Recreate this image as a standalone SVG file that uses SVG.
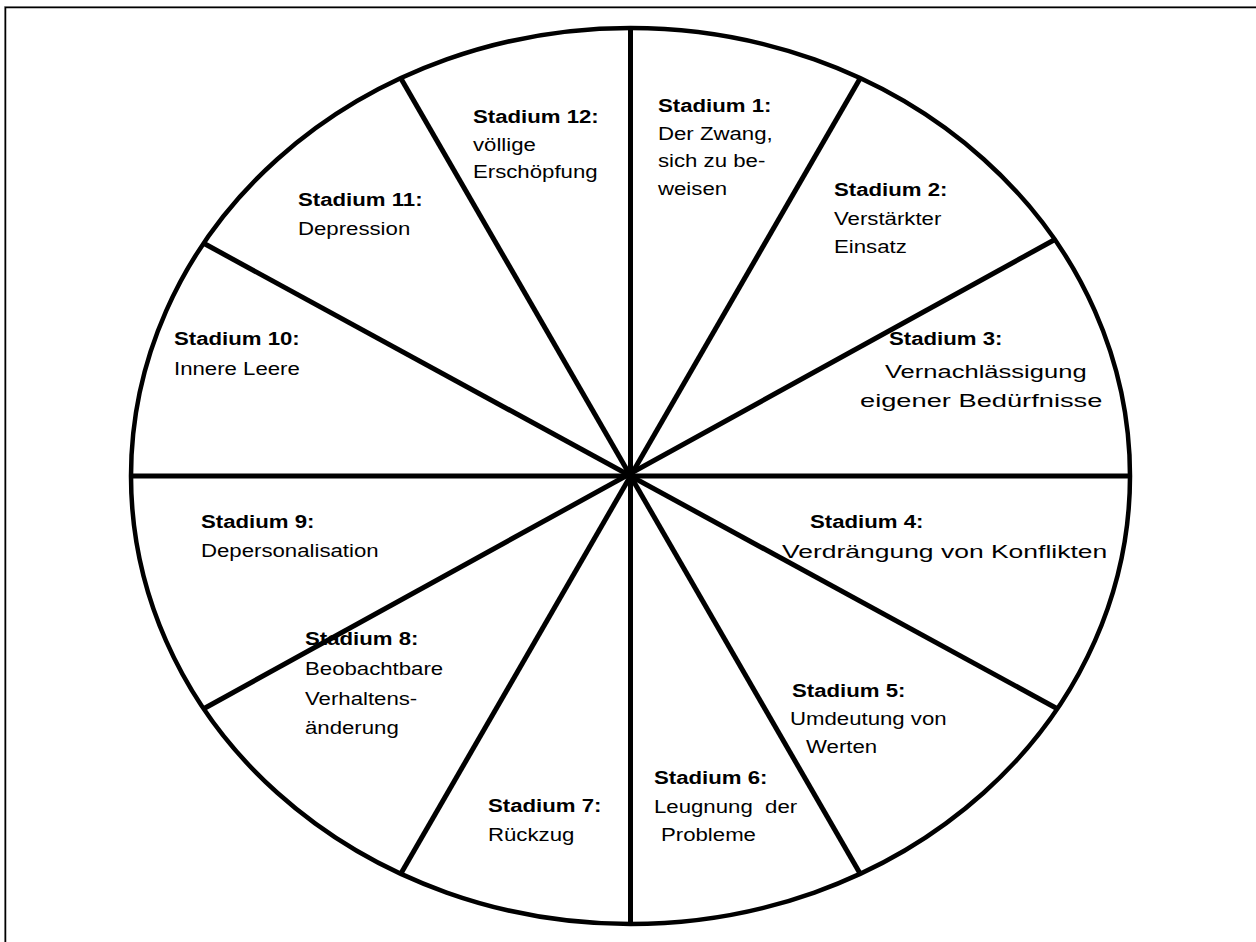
<svg xmlns="http://www.w3.org/2000/svg" width="1256" height="942" viewBox="0 0 1256 942">
<style>
.spoke{stroke:#000;stroke-width:5;fill:none}
.rim{stroke:#000;stroke-width:4.5;fill:none}
text{font-family:"Liberation Sans",Arial,sans-serif;font-size:18.5px;fill:#000;white-space:pre}
.b{font-weight:bold}
</style>
<rect width="1256" height="942" fill="#fff"/>
<g id="frame">
<line x1="4" y1="6.5" x2="1256" y2="6.5" stroke="#999" stroke-width="1"/>
<line x1="5" y1="7.5" x2="1256" y2="7.5" stroke="#000" stroke-width="1.5"/>
<line x1="4.5" y1="6" x2="4.5" y2="942" stroke="#999" stroke-width="1"/>
<line x1="5.5" y1="7" x2="5.5" y2="942" stroke="#000" stroke-width="1.5"/>
</g>
<g id="wheel">
<ellipse class="rim" cx="630.5" cy="476" rx="499.5" ry="448"/>
</g>
<g id="connectors">
<line class="spoke" x1="630.5" y1="28" x2="630.5" y2="924"/>
<line class="spoke" x1="131" y1="476" x2="1130" y2="476"/>
<line class="spoke" x1="860.2" y1="78.2" x2="400.8" y2="873.8"/>
<line class="spoke" x1="400.8" y1="78.2" x2="860.2" y2="873.8"/>
<line class="spoke" x1="1054" y1="240" x2="203.7" y2="708.7"/>
<line class="spoke" x1="203.7" y1="243.3" x2="1057.3" y2="708.7"/>
</g>
<g id="s1"><text class="b" transform="translate(658,112) scale(1.2,1)">Stadium 1:</text><text transform="translate(658,140) scale(1.2,1)">Der Zwang,</text><text transform="translate(658,167) scale(1.2,1)">sich zu be-</text><text transform="translate(658,195) scale(1.2,1)">weisen</text></g>
<g id="s2"><text class="b" transform="translate(834,196) scale(1.2,1)">Stadium 2:</text><text transform="translate(834,225) scale(1.2,1)">Verstärkter</text><text transform="translate(834,253) scale(1.2,1)">Einsatz</text></g>
<g id="s3"><text class="b" transform="translate(889,345) scale(1.2,1)">Stadium 3:</text><text transform="translate(885,378) scale(1.2,1)" textLength="168" lengthAdjust="spacingAndGlyphs">Vernachlässigung</text><text transform="translate(860,407) scale(1.2,1)" textLength="202" lengthAdjust="spacingAndGlyphs">eigener Bedürfnisse</text></g>
<g id="s4"><text class="b" transform="translate(810,528) scale(1.2,1)">Stadium 4:</text><text transform="translate(782,558) scale(1.2,1)" textLength="271" lengthAdjust="spacingAndGlyphs">Verdrängung von Konflikten</text></g>
<g id="s5"><text class="b" transform="translate(792,697) scale(1.2,1)">Stadium 5:</text><text transform="translate(790,725) scale(1.2,1)">Umdeutung von</text><text transform="translate(806,753) scale(1.2,1)">Werten</text></g>
<g id="s6"><text class="b" transform="translate(654,784) scale(1.2,1)">Stadium 6:</text><text transform="translate(654,813) scale(1.2,1)">Leugnung  der</text><text transform="translate(661,841) scale(1.2,1)">Probleme</text></g>
<g id="s7"><text class="b" transform="translate(488,812) scale(1.2,1)">Stadium 7:</text><text transform="translate(488,841) scale(1.2,1)">Rückzug</text></g>
<g id="s8"><text class="b" transform="translate(305,645) scale(1.2,1)">Stadium 8:</text><text transform="translate(305,675) scale(1.2,1)">Beobachtbare</text><text transform="translate(305,705) scale(1.2,1)">Verhaltens-</text><text transform="translate(305,734) scale(1.2,1)">änderung</text></g>
<g id="s9"><text class="b" transform="translate(201,528) scale(1.2,1)">Stadium 9:</text><text transform="translate(201,557) scale(1.2,1)">Depersonalisation</text></g>
<g id="s10"><text class="b" transform="translate(174,345) scale(1.2,1)">Stadium 10:</text><text transform="translate(174,375) scale(1.2,1)">Innere Leere</text></g>
<g id="s11"><text class="b" transform="translate(298,206) scale(1.2,1)">Stadium 11:</text><text transform="translate(298,235) scale(1.2,1)">Depression</text></g>
<g id="s12"><text class="b" transform="translate(473,123) scale(1.2,1)">Stadium 12:</text><text transform="translate(473,151) scale(1.2,1)">völlige</text><text transform="translate(473,178) scale(1.2,1)">Erschöpfung</text></g>
</svg>
